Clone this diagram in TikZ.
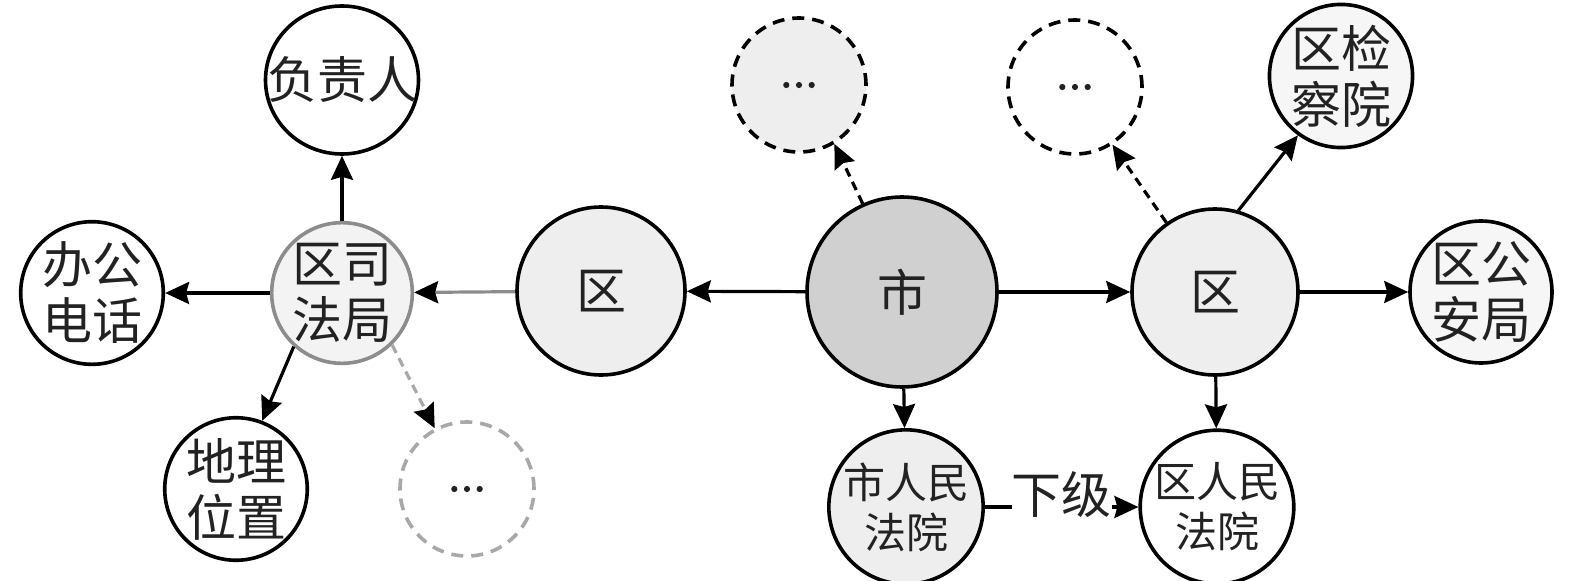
\documentclass[tikz,border=0pt]{standalone}
\usepackage{fontspec}
\setmainfont{Noto Sans CJK SC}
\usetikzlibrary{arrows.meta,shapes.geometric}
\definecolor{textc}{HTML}{222222}
\definecolor{sfjb}{HTML}{8C8C8C}
\definecolor{sfjf}{HTML}{F3F3F3}
\definecolor{dgray}{HTML}{A8A8A8}
\definecolor{lightf}{HTML}{EEEEEE}
\definecolor{shif}{HTML}{D0D0D0}
\definecolor{palef}{HTML}{F6F6F6}
\tikzset{
  nd/.style={circle, draw=black, line width=3.6pt, inner sep=0pt, text=textc,
    align=center, font=\fontsize{50}{56}\selectfont},
  small/.style={font=\fontsize{42}{50}\selectfont},
  dashc/.style={dash pattern=on 12pt off 8pt},
  ar/.style={line width=3.2pt, -{Stealth[length=24pt,width=22pt,inset=3pt,color=black]}},
  dar/.style={ar, dash pattern=on 9pt off 6pt},
}
\newcommand{\dotsin}[1]{\fill[textc] ([xshift=-12.7pt]#1.center) circle (3.1pt) (#1.center) circle (3.1pt) ([xshift=12.7pt]#1.center) circle (3.1pt);}
\begin{document}
\begin{tikzpicture}[x=1pt,y=-1pt]
\useasboundingbox (0,0) rectangle (1575,581);
% nodes
\node[nd, ellipse, inner xsep=-21pt, inner ysep=0pt, minimum width=153pt, minimum height=148pt] (fzr) at (342,80) {负责人};
\node[nd, minimum size=142pt] (bgdh) at (92,293) {办公\\电话};
\node[nd, draw=sfjb, fill=sfjf, minimum size=138pt] (sfj) at (342,293) {区司\\法局};
\node[nd, minimum size=140pt] (dlwz) at (236,489) {地理\\位置};
\node[nd, draw=dgray, dashc, minimum size=134pt] (dg) at (467,489) {};
\node[nd, fill=lightf, minimum size=168pt] (qL) at (601,291) {区};
\node[nd, fill=shif, minimum size=190pt] (shi) at (902,292) {市};
\node[nd, fill=lightf, dashc, minimum size=134pt] (d1) at (799,85) {};
\node[nd, small, fill=lightf, minimum size=126pt] (srm) at (906,507) {市人民\\法院};
\node[nd, small, minimum size=124pt] (qrm) at (1217,507) {区人民\\法院};
\node[nd, fill=lightf, minimum size=166pt] (qR) at (1215,292) {区};
\node[nd, dashc, minimum size=134pt] (d2) at (1075,87) {};
\node[nd, fill=palef, minimum size=140pt] (qjc) at (1341,76) {区检\\察院};
\node[nd, fill=palef, minimum size=134pt] (qga) at (1481,292) {区公\\安局};
% dots
\dotsin{dg}
\dotsin{d1}
\dotsin{d2}
% connectors
\draw[ar] (sfj) -- (fzr);
\draw[ar] (sfj) -- (bgdh);
\draw[ar] (sfj.-132) -- (dlwz.69);
\draw[dar, draw=dgray] (sfj.-46) -- (dg.118);
\draw[ar, draw=sfjb] (qL) -- (sfj);
\draw[ar] (shi) -- (qL);
\draw[dar] (shi.114) -- (d1.-59);
\draw[ar] (shi) -- (qR);
\draw[ar] (shi) -- (srm);
\draw[ar] (srm) -- node[fill=white, inner sep=0pt, yshift=12pt, text=textc, font=\fontsize{50}{56}\selectfont] (xj) {下级} (qrm);
\draw[dar] (qR.125) -- (d2.-57);
\draw[ar] (qR.74) -- (qjc.-126);
\draw[ar] (qR) -- (qga);
\draw[ar] (qR) -- (qrm);
\end{tikzpicture}
\end{document}
